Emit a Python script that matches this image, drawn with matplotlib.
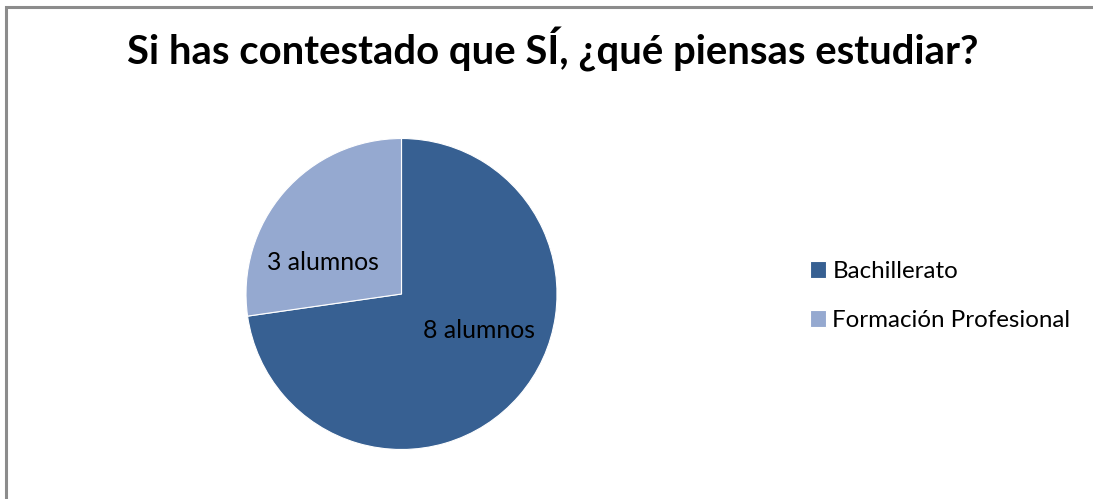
import matplotlib
matplotlib.use("Agg")
import matplotlib.pyplot as plt
from matplotlib.patches import Rectangle

# Data
categories = ["Bachillerato", "Formación Profesional"]
counts = [8, 3]
colors = ["#376092", "#95A9D0"]
title = "Si has contestado que SÍ, ¿qué piensas estudiar?"

W, H = 1093, 499
plt.rcParams["font.family"] = ["Lato", "DejaVu Sans"]

fig = plt.figure(figsize=(W / 100, H / 100), dpi=100)

# chart frame (only left and top edges are visible in the crop)
fig.patches.append(Rectangle((6 / W, -0.1), 1.2, 1 - 7 / H + 0.1,
                             transform=fig.transFigure, fill=False,
                             edgecolor="#8c8c8c", linewidth=2.2))

fig.text(553 / W, 1 - 50 / H, title, ha="center", va="center",
         fontsize=28.8, fontweight="bold", color="black")

# pie: centre (401.5, 294), radius 155.5 px
cx, cy, r = 401.5, 294, 155.5
ax = fig.add_axes([(cx - r) / W, 1 - (cy + r) / H, 2 * r / W, 2 * r / H])
wedges, _ = ax.pie(counts, colors=colors, startangle=90, counterclock=False,
                   wedgeprops=dict(edgecolor="white", linewidth=0.8))
ax.set_xlim(-1, 1)
ax.set_ylim(-1, 1)
ax.set_aspect("equal")

# data labels, placed as Excel did
label_pos = [((479 - cx) / r, (cy - 331) / r), ((323 - cx) / r, (cy - 262) / r)]
for n, (lx, ly) in zip(counts, label_pos):
    ax.text(lx, ly, f"{n} alumnos", ha="center", va="center",
            fontsize=17.8, color="black")

fig.legend(wedges, categories, loc="upper left",
           bbox_to_anchor=(810 / W, 1 - 261 / H), frameon=False,
           fontsize=17.4, handlelength=0.68, handleheight=0.68,
           handletextpad=0.25, labelspacing=1.15, borderaxespad=0,
           borderpad=0)

fig.savefig("out.png", dpi=100)
